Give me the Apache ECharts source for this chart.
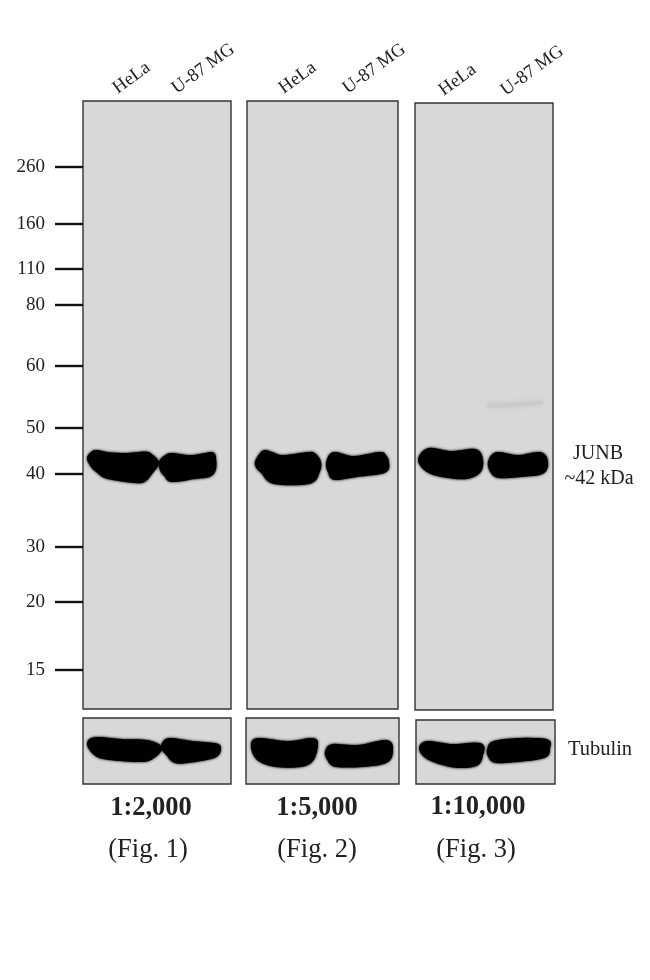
<!DOCTYPE html>
<html>
<head>
<meta charset="utf-8">
<style>html,body{margin:0;padding:0;background:#fff}#c{width:650px;height:980px}</style>
<script src="https://cdn.jsdelivr.net/npm/echarts@6/dist/echarts.min.js"></script>
</head>
<body>
<div id="c"></div>
<script>
// Lane names and molecular-weight ladder (migration = distance from top of gel)
const laneNames = ['HeLa', 'U-87 MG'];
const markerKda = [260, 160, 110, 80, 60, 50, 40, 30, 20, 15];
const markerMigration = [66, 123, 168, 204, 265, 327, 373, 446, 501, 569];
const figLabels = ['(Fig. 1)', '(Fig. 2)', '(Fig. 3)'];
const dilutions = ['1:2,000', '1:5,000', '1:10,000'];

// Lane start positions along each gel
const lanes1 = [32, 91];
const lanes2 = [34, 98];
const lanes3 = [26, 88];

// Band outlines: [lane position, migration]
const junb1HeLa = [[6,357],[10,352],[14,351],[25,353],[42,354],[62,352.5],[68,355],[74,362],[68,371],[61,379],[52,380],[25,376],[15,370],[9,364]];
const junb1U87 = [[78,361],[83,356],[89,354],[107,356],[122,354],[129,353],[131,357],[131,368],[126,374],[112,376],[89,379],[83,374],[79,369]];
const junb2HeLa = [[10,361],[14,354],[18,351],[25,353],[36,356],[61,353],[67,354],[72,361],[71,370],[62,381],[27,381],[16,371],[11,366]];
const junb2U87 = [[81,362],[87,353],[106,357],[132,353],[137,355],[140,361],[137,370],[110,374],[88,377],[83,371]];
const junb3HeLa = [[5,357],[14,347],[36,350],[60,348],[66,357],[64,368],[52,374],[33,373],[14,368]];
const junb3U87 = [[75,359],[82,351],[103,354],[125,351],[131,359],[127,369],[106,372],[84,373],[77,368]];
const junb3Faint = [[75,301],[100,300],[125,298],[125,301],[100,303],[75,304]];
const tub1HeLa = [[6,26],[13,21],[39,23],[64,24],[77,30],[69,39],[58,42],[26,40],[13,36]];
const tub1U87 = [[80,29],[86,22],[109,25],[131,27],[136,30],[131,38],[105,43],[92,43],[85,36]];
const tub2HeLa = [[7,29],[12,22],[42,25],[66,22],[70,27],[66,41],[55,47],[30,47],[13,41]];
const tub2U87 = [[81,34],[87,28],[112,29],[140,24],[145,32],[140,43],[116,47],[90,47],[83,41]];
const tub3HeLa = [[5,28],[12,23],[36,26],[64,25],[65,35],[60,44],[42,46],[23,42],[10,36]];
const tub3U87 = [[73,30],[78,23],[102,20],[130,21],[132,28],[128,36],[102,40],[80,41],[74,36]];

const SERIF = '"Liberation Serif","Times New Roman",serif';
const INK = '#222';

const panels = [
  {l:83,  t:101, w:148, h:608, lanes:lanes1, ladder:true, bands:[junb1HeLa, junb1U87]},
  {l:247, t:101, w:151, h:608, lanes:lanes2, bands:[junb2HeLa, junb2U87]},
  {l:415, t:103, w:138, h:607, lanes:lanes3, bands:[junb3HeLa, junb3U87], faint:junb3Faint},
  {l:83,  t:718, w:148, h:66,  bands:[tub1HeLa, tub1U87]},
  {l:246, t:718, w:153, h:66,  bands:[tub2HeLa, tub2U87]},
  {l:416, t:720, w:139, h:64,  bands:[tub3HeLa, tub3U87]}
];

const grid = [], xAxis = [], yAxis = [], series = [];

// Rounds a closed outline (pixel points) so the band edge reads as a soft blob
function rounded(pts) {
  const out = [], n = pts.length;
  for (let i = 0; i < n; i++) {
    const a = pts[(i + n - 1) % n], b = pts[i], c = pts[(i + 1) % n], d = pts[(i + 2) % n];
    for (let k = 0; k < 8; k++) {
      const t = k / 8, t2 = t * t, t3 = t2 * t;
      out.push([0, 1].map(j => 0.5 * (2 * b[j] + (c[j] - a[j]) * t +
        (2 * a[j] - 5 * b[j] + 4 * c[j] - d[j]) * t2 +
        (3 * b[j] - a[j] - 3 * c[j] + d[j]) * t3)));
    }
  }
  return out;
}

function bandSeries(i, outline, color, blur, stroke) {
  return {
    type: 'custom', xAxisIndex: i, yAxisIndex: i, silent: true,
    coordinateSystem: 'cartesian2d',
    data: outline,
    encode: {x: 0, y: 1},
    renderItem: function (params, api) {
      if (params.dataIndex !== 0) return null;
      return {
        type: 'polygon',
        shape: {points: rounded(outline.map(p => api.coord(p)))},
        style: {fill: color, stroke: color, lineWidth: stroke, lineJoin: 'round', shadowBlur: blur, shadowColor: color}
      };
    }
  };
}

panels.forEach((p, i) => {
  grid.push({left:p.l, top:p.t, width:p.w, height:p.h, show:true, backgroundColor:'#d8d8d8', borderColor:'#333', borderWidth:1.4});
  const lanes = p.lanes;
  xAxis.push({
    type:'value', gridIndex:i, min:0, max:p.w, position:'top', splitLine:{show:false},
    axisLine:{show:false}, axisTick:{show:false},
    axisLabel: lanes ? {
      show:true, customValues:lanes, rotate:36, margin:11, hideOverlap:false,
      fontFamily:SERIF, fontSize:18.5, color:INK,
      formatter: v => laneNames[lanes.indexOf(v)]
    } : {show:false}
  });
  yAxis.push({
    type:'value', gridIndex:i, min:0, max:p.h, inverse:true, position:'left', splitLine:{show:false},
    axisLine:{show:false},
    axisTick: p.ladder ? {show:true, customValues:markerMigration, length:28, lineStyle:{color:'#111', width:2.4}} : {show:false},
    axisLabel: p.ladder ? {
      show:true, customValues:markerMigration, margin:38, hideOverlap:false,
      fontFamily:SERIF, fontSize:19, color:INK, padding:[4,0,0,0],
      formatter: v => String(markerKda[markerMigration.indexOf(v)])
    } : {show:false}
  });
  if (p.faint) series.push(bandSeries(i, p.faint, '#cbcbcb', 5, 1));
  p.bands.forEach(b => series.push(bandSeries(i, b, '#000', 3, 4)));
});

function txt(x, y, text, size, weight) {
  return {type:'text', x:x, y:y, silent:true, style:{
    text:text, fill:INK, font:(weight||'normal')+' '+size+'px '+SERIF, textAlign:'center', textVerticalAlign:'middle'
  }};
}
const dilX = [151, 317, 478], figX = [148, 317, 476], dilY = [808, 808, 807];
const graphicEls = [
  txt(598, 454, 'JUNB', 20),
  txt(599, 479, '~42 kDa', 20),
  txt(600, 750, 'Tubulin', 20.5)
];
dilutions.forEach((d, i) => graphicEls.push(txt(dilX[i], dilY[i], d, 26.5, 'bold')));
figLabels.forEach((f, i) => graphicEls.push(txt(figX[i], 850, f, 26.5)));

const chart = echarts.init(document.getElementById('c'), null, {renderer:'canvas', width:650, height:980});
chart.setOption({
  animation:false, backgroundColor:'#fff',
  grid, xAxis, yAxis, series,
  graphic:{elements:graphicEls}
});
</script>
</body>
</html>
